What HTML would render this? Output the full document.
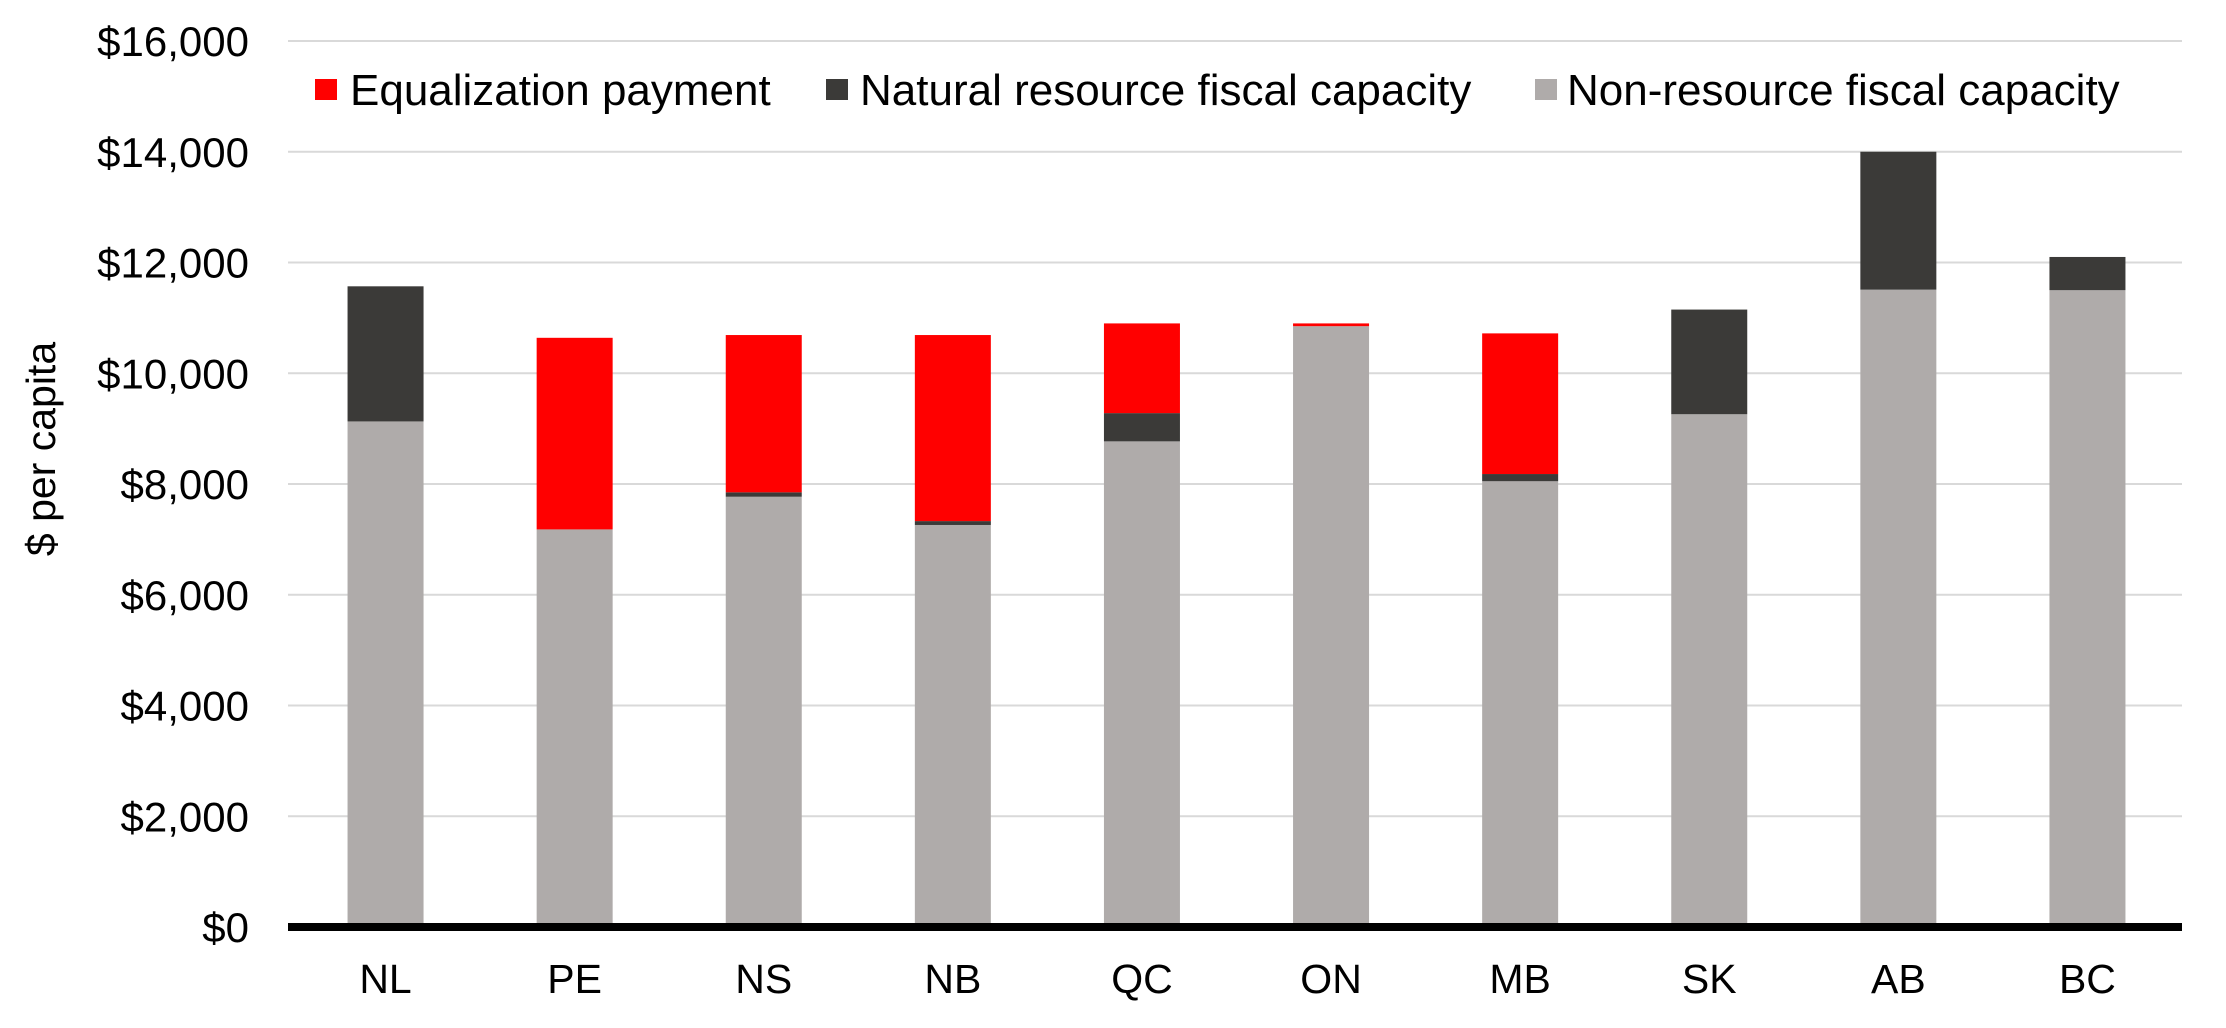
<!DOCTYPE html>
<html><head><meta charset="utf-8"><style>
html,body{margin:0;padding:0;background:#fff}
svg{display:block;font-family:"Liberation Sans",Arial,sans-serif}
</style></head><body>
<svg id="chart" width="2226" height="1028" viewBox="0 0 2226 1028" xmlns="http://www.w3.org/2000/svg">
<text transform="translate(55,449) rotate(-90)" text-anchor="middle" font-size="41">$ per capita</text>
<g id="grid"></g>
<g id="bars"></g>
<g id="ylabels"></g>
<g id="xlabels"></g>
<line x1="288" x2="2182" y1="927" y2="927" stroke="#000" stroke-width="8"/>
<g font-size="44">
 <rect x="315" y="79" width="22" height="21" fill="#ff0000"/>
 <text x="350" y="105">Equalization payment</text>
 <rect x="826" y="79" width="22" height="21" fill="#3b3a38"/>
 <text x="860" y="105">Natural resource fiscal capacity</text>
 <rect x="1535" y="79" width="22" height="21" fill="#afabaa"/>
 <text x="1567" y="105">Non-resource fiscal capacity</text>
</g>
</svg>
<script>
const categories = ["NL","PE","NS","NB","QC","ON","MB","SK","AB","BC"];
const nonResource = [9130,7180,7770,7260,8770,10850,8050,9260,11510,11500];
const naturalResource = [2440,0,80,70,510,0,130,1890,2490,600];
const equalization = [0,3460,2840,3360,1620,50,2540,0,0,0];
const yTicks = [0,2000,4000,6000,8000,10000,12000,14000,16000];
const yTickLabels = ["$0","$2,000","$4,000","$6,000","$8,000","$10,000","$12,000","$14,000","$16,000"];

const NS = "http://www.w3.org/2000/svg";
const plotL = 291, plotR = 2182, y0 = 927, yTop = 41, yMax = 16000;
const band = (plotR - plotL) / categories.length, barW = 76;
function y(v){ return y0 - (v / yMax) * (y0 - yTop); }
function xc(i){ return plotL + band * (i + 0.5); }
function mk(tag, attrs, parent){
  const e = document.createElementNS(NS, tag);
  for (const k in attrs) e.setAttribute(k, attrs[k]);
  parent.appendChild(e); return e;
}
const grid = document.getElementById('grid');
const yl = document.getElementById('ylabels');
yTicks.forEach((t, i) => {
  if (t > 0) {
    const g = mk('line', {x1: plotL - 3, x2: plotR, y1: y(t), y2: y(t), stroke: '#d9d9d9', 'stroke-width': 2}, grid);
    
    
  }
  const tx = mk('text', {x: 249, y: y(t) + 15, 'text-anchor': 'end', 'font-size': 42}, yl);
  
  
  tx.textContent = yTickLabels[i];
});
const bars = document.getElementById('bars');
const xl = document.getElementById('xlabels');
categories.forEach((c, i) => {
  const x = xc(i) - barW / 2;
  let base = 0;
  const segs = [[nonResource[i], '#afabaa', 'non-resource'], [naturalResource[i], '#3b3a38', 'natural-resource'], [equalization[i], '#ff0000', 'equalization']];
  segs.forEach(s => {
    if (s[0] <= 0) return;
    const r = mk('rect', {x: x, y: y(base + s[0]), width: barW, height: y(base) - y(base + s[0]), fill: s[1]}, bars);
    
    
    base += s[0];
  });
  const t = mk('text', {x: xc(i), y: 993, 'text-anchor': 'middle', 'font-size': 41}, xl);
  
  
  t.textContent = c;
});
</script>
</body></html>
